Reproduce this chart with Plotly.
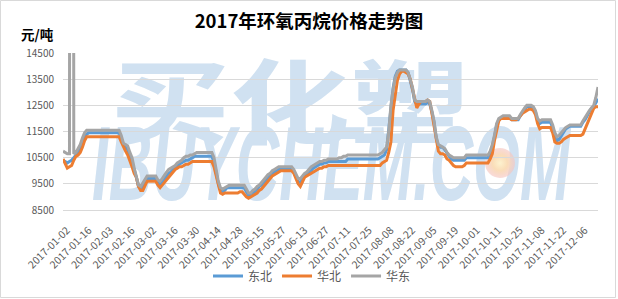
import base64
import numpy as np
import plotly.graph_objects as go

# ---------------- data ----------------
tick_labels = ["2017-01-02", "2017-01-16", "2017-02-03", "2017-02-16", "2017-03-02",
               "2017-03-16", "2017-03-30", "2017-04-14", "2017-04-28", "2017-05-15",
               "2017-05-27", "2017-06-13", "2017-06-27", "2017-07-11", "2017-07-25",
               "2017-08-08", "2017-08-22", "2017-09-05", "2017-09-19", "2017-10-01",
               "2017-10-11", "2017-10-25", "2017-11-08", "2017-11-22", "2017-12-06"]

series_names = ["东北", "华北", "华东"]

dongbei = [
    10400, 10350, 10300, 10350, 10400, 10500, 10600, 10700, 10850, 11050,
    11300, 11400, 11450, 11450, 11450, 11450, 11450, 11450, 11450, 11450,
    11450, 11450, 11450, 11450, 11450, 11450, 11450, 11250, 11000, 10900,
    10800, 10600, 10350, 10050, 9750, 9400, 9300, 9400, 9600, 9700,
    9700, 9700, 9700, 9700, 9550, 9450, 9550, 9700, 9800, 9900,
    9950, 10050, 10100, 10200, 10250, 10300, 10350, 10400, 10400, 10450,
    10500, 10550, 10550, 10550, 10550, 10550, 10550, 10550, 10550, 10550,
    10350, 9900, 9500, 9250, 9200, 9250, 9350, 9350, 9350, 9350,
    9350, 9350, 9350, 9350, 9350, 9200, 9050, 9050, 9150, 9200,
    9300, 9400, 9450, 9550, 9650, 9750, 9800, 9900, 9950, 10000,
    10050, 10050, 10050, 10050, 10050, 10050, 10050, 9950, 9750, 9600,
    9550, 9650, 9800, 9850, 9950, 10000, 10100, 10150, 10200, 10250,
    10250, 10300, 10300, 10350, 10350, 10350, 10350, 10350, 10350, 10350,
    10350, 10350, 10450, 10450, 10450, 10450, 10450, 10450, 10450, 10450,
    10450, 10450, 10450, 10450, 10450, 10450, 10450, 10500, 10550, 10600,
    10800, 11600, 12600, 13150, 13600, 13800, 13850, 13850, 13850, 13850,
    13750, 13450, 13100, 12650, 12550, 12550, 12550, 12550, 12550, 12600,
    12550, 12250, 11850, 11250, 10950, 10900, 10900, 10800, 10650, 10550,
    10450, 10400, 10400, 10400, 10400, 10400, 10400, 10500, 10500, 10500,
    10500, 10500, 10500, 10500, 10500, 10500, 10500, 10500, 10650, 10900,
    11300, 11750, 11950, 12000, 12050, 12050, 12050, 12050, 11950, 11950,
    11950, 11950, 12100, 12250, 12350, 12450, 12450, 12450, 12400, 12250,
    11900, 11800, 11850, 11850, 11850, 11850, 11850, 11650, 11350, 11150,
    11200, 11350, 11500, 11600, 11650, 11700, 11700, 11700, 11700, 11700,
    11700, 11850, 11950, 12100, 12250, 12400, 12450, 12600, 12750,
]

huabei = [
    10450, 10250, 10100, 10150, 10200, 10400, 10550, 10600, 10700, 10900,
    11150, 11300, 11300, 11300, 11300, 11300, 11300, 11300, 11300, 11300,
    11300, 11300, 11300, 11300, 11300, 11300, 11300, 11100, 10900, 10750,
    10600, 10400, 10150, 9900, 9750, 9400, 9250, 9250, 9450, 9600,
    9600, 9600, 9600, 9600, 9450, 9350, 9450, 9550, 9650, 9750,
    9850, 9950, 10050, 10100, 10150, 10150, 10200, 10250, 10250, 10300,
    10350, 10350, 10350, 10350, 10350, 10350, 10350, 10350, 10350, 10350,
    10150, 9800, 9400, 9150, 9100, 9150, 9150, 9150, 9150, 9150,
    9150, 9150, 9200, 9200, 9100, 9000, 8950, 9000, 9050, 9100,
    9150, 9250, 9300, 9400, 9500, 9600, 9700, 9800, 9850, 9900,
    9950, 10000, 10000, 10000, 10000, 10000, 10000, 9900, 9700, 9500,
    9400, 9550, 9750, 9800, 9850, 9900, 9950, 10000, 10050, 10100,
    10100, 10150, 10150, 10200, 10200, 10200, 10200, 10200, 10200, 10200,
    10200, 10200, 10200, 10200, 10200, 10200, 10200, 10200, 10200, 10200,
    10200, 10200, 10200, 10200, 10200, 10200, 10200, 10200, 10300, 10350,
    10400, 10700, 11100, 12300, 12850, 13450, 13700, 13800, 13800, 13750,
    13700, 13500, 13150, 12800, 12400, 12550, 12650, 12650, 12650, 12700,
    12650, 12200, 11700, 11150, 10750, 10650, 10650, 10600, 10450, 10400,
    10300, 10200, 10150, 10150, 10150, 10150, 10200, 10300, 10300, 10300,
    10300, 10300, 10300, 10300, 10300, 10300, 10300, 10300, 10450, 10650,
    11150, 11550, 11900, 12000, 12000, 12000, 12000, 12000, 11950, 11950,
    11950, 12000, 12100, 12200, 12250, 12300, 12350, 12350, 12300, 12150,
    11800, 11600, 11650, 11650, 11650, 11650, 11650, 11450, 11100, 11050,
    11050, 11100, 11200, 11250, 11300, 11350, 11350, 11350, 11350, 11350,
    11350, 11400, 11600, 11850, 12050, 12200, 12380, 12450, 12450,
]

huadong = [
    10750, 10700, 10650, 10650, 107000, 10650, 10700, 10850, 11000, 11250,
    11450, 11550, 11550, 11550, 11550, 11550, 11550, 11550, 11550, 11550,
    11550, 11550, 11550, 11550, 11550, 11550, 11550, 11350, 11050, 11000,
    10950, 10700, 10500, 10100, 9750, 9450, 9400, 9550, 9700, 9800,
    9800, 9800, 9800, 9800, 9650, 9600, 9700, 9850, 9950, 10050,
    10100, 10150, 10200, 10300, 10350, 10400, 10500, 10550, 10550, 10600,
    10600, 10650, 10700, 10700, 10700, 10700, 10700, 10700, 10700, 10700,
    10500, 10000, 9600, 9350, 9300, 9350, 9400, 9450, 9450, 9450,
    9450, 9450, 9450, 9450, 9450, 9300, 9150, 9150, 9250, 9300,
    9400, 9450, 9550, 9650, 9750, 9850, 9900, 10000, 10050, 10100,
    10150, 10150, 10150, 10150, 10150, 10150, 10150, 10050, 9850, 9700,
    9700, 9800, 9900, 9950, 10050, 10150, 10200, 10250, 10300, 10350,
    10350, 10400, 10400, 10450, 10450, 10450, 10450, 10450, 10500, 10500,
    10550, 10550, 10600, 10600, 10600, 10600, 10600, 10600, 10600, 10600,
    10600, 10600, 10600, 10600, 10600, 10600, 10600, 10650, 10700, 10800,
    10900, 11500, 12500, 13100, 13550, 13750, 13850, 13850, 13850, 13850,
    13750, 13500, 13200, 12700, 12650, 12650, 12650, 12650, 12650, 12700,
    12650, 12300, 11900, 11300, 11000, 10950, 10900, 10850, 10700, 10600,
    10550, 10500, 10500, 10500, 10500, 10500, 10500, 10600, 10600, 10600,
    10600, 10600, 10600, 10600, 10600, 10600, 10600, 10600, 10750, 11000,
    11350, 11800, 12000, 12050, 12100, 12100, 12100, 12100, 12000, 12000,
    12000, 12000, 12150, 12300, 12400, 12500, 12500, 12500, 12450, 12300,
    12000, 11900, 11950, 11950, 11950, 11950, 11950, 11750, 11450, 11300,
    11350, 11450, 11550, 11650, 11700, 11750, 11750, 11750, 11750, 11750,
    11750, 11900, 12050, 12150, 12300, 12400, 12500, 12800, 13200,
]

series_values = [dongbei, huabei, huadong]
series_colors = ["#5B9BD5", "#ED7D31", "#A5A5A5"]

# ---------------- figure ----------------
W, H = 618, 299
ML, MR, MT, MB = 63, 20, 53, 89
PW, PH = W - ML - MR, H - MT - MB

n = len(dongbei)
x = np.arange(n)
tick_pos = list(range(0, 10 * len(tick_labels), 10))

FONT = "Noto Sans CJK SC, Noto Sans, sans-serif"

fig = go.Figure()
for name, vals, col in zip(series_names, series_values, series_colors):
    fig.add_trace(go.Scatter(
        x=x, y=vals, name=name, mode="lines",
        line=dict(color=col, width=3), hoverinfo="skip",
    ))

# watermark (plot-area background picture)
svg = f'''<svg xmlns="http://www.w3.org/2000/svg" width="{PW}" height="{PH}" viewBox="0 0 {PW} {PH}">
<defs><radialGradient id="g" cx="50%" cy="50%" r="50%">
<stop offset="0%" stop-color="#FDF2CF"/><stop offset="50%" stop-color="#FADDB8"/>
<stop offset="100%" stop-color="#F5C4C0" stop-opacity="0.6"/></radialGradient></defs>
<text x="47" y="84" font-family="Noto Sans CJK SC" font-weight="700" font-size="92"
 fill="#D0E1F1" textLength="360" lengthAdjust="spacingAndGlyphs">买化塑</text>
<text x="29" y="147" font-family="Liberation Sans" font-weight="bold" font-style="italic"
 font-size="105" fill="#D0E1F1" textLength="478" lengthAdjust="spacingAndGlyphs">IBUYCHEM.COM</text>
<circle cx="437" cy="110" r="15" fill="url(#g)"/>
</svg>'''
src = "data:image/svg+xml;base64," + base64.b64encode(svg.encode("utf-8")).decode("ascii")

fig.update_layout(
    width=W, height=H,
    margin=dict(l=ML, r=MR, t=MT, b=MB, autoexpand=False),
    paper_bgcolor="white", plot_bgcolor="rgba(0,0,0,0)",
    font=dict(family=FONT, color="#595959"),
    title=dict(text="<b>2017年环氧丙烷价格走势图</b>", x=0.5, xanchor="center",
               xref="container", y=1 - 22 / H, yanchor="middle", yref="container",
               font=dict(size=18.5, color="#000000", family=FONT)),
    showlegend=True,
    legend=dict(orientation="h", xref="paper", yref="paper",
                x=(312 - ML) / PW, xanchor="center",
                y=(MT + PH - 276) / PH, yanchor="middle",
                font=dict(size=12, color="#595959", family=FONT),
                bgcolor="rgba(0,0,0,0)"),
    images=[dict(source=src, xref="paper", yref="paper", x=0, y=1,
                 sizex=1, sizey=1, xanchor="left", yanchor="top",
                 sizing="stretch", layer="below")],
    annotations=[dict(text="<b>元/吨</b>", xref="paper", yref="paper",
                      x=(37 - ML) / PW, y=(MT + PH - 34) / PH,
                      xanchor="center", yanchor="middle", showarrow=False,
                      font=dict(size=13.5, color="#000000", family=FONT))],
    shapes=[dict(type="rect", xref="paper", yref="paper",
                 x0=(0.5 - ML) / PW, x1=(615.5 - ML) / PW,
                 y0=(MT + PH - 297.5) / PH, y1=(MT + PH - 0.5) / PH,
                 line=dict(color="#D9D9D9", width=1), fillcolor="rgba(0,0,0,0)",
                 layer="below")],
)

fig.update_xaxes(range=[0, n - 1], tickmode="array", tickvals=tick_pos,
                 ticktext=tick_labels, tickangle=-45, showgrid=False,
                 showline=True, linecolor="#D9D9D9", linewidth=1,
                 zeroline=False, ticks="", automargin=False,
                 ticklabelstandoff=9, ticklabelshift=4,
                 tickfont=dict(size=10.5, color="#595959", family=FONT))
fig.update_yaxes(range=[8500, 14500], tick0=8500, dtick=1000, tickformat="d",
                 showgrid=True, gridcolor="#D9D9D9", gridwidth=1,
                 zeroline=False, showline=False, ticks="", automargin=False,
                 ticklabelstandoff=8,
                 tickfont=dict(size=10, color="#595959", family=FONT))

fig.write_html("out.html")
